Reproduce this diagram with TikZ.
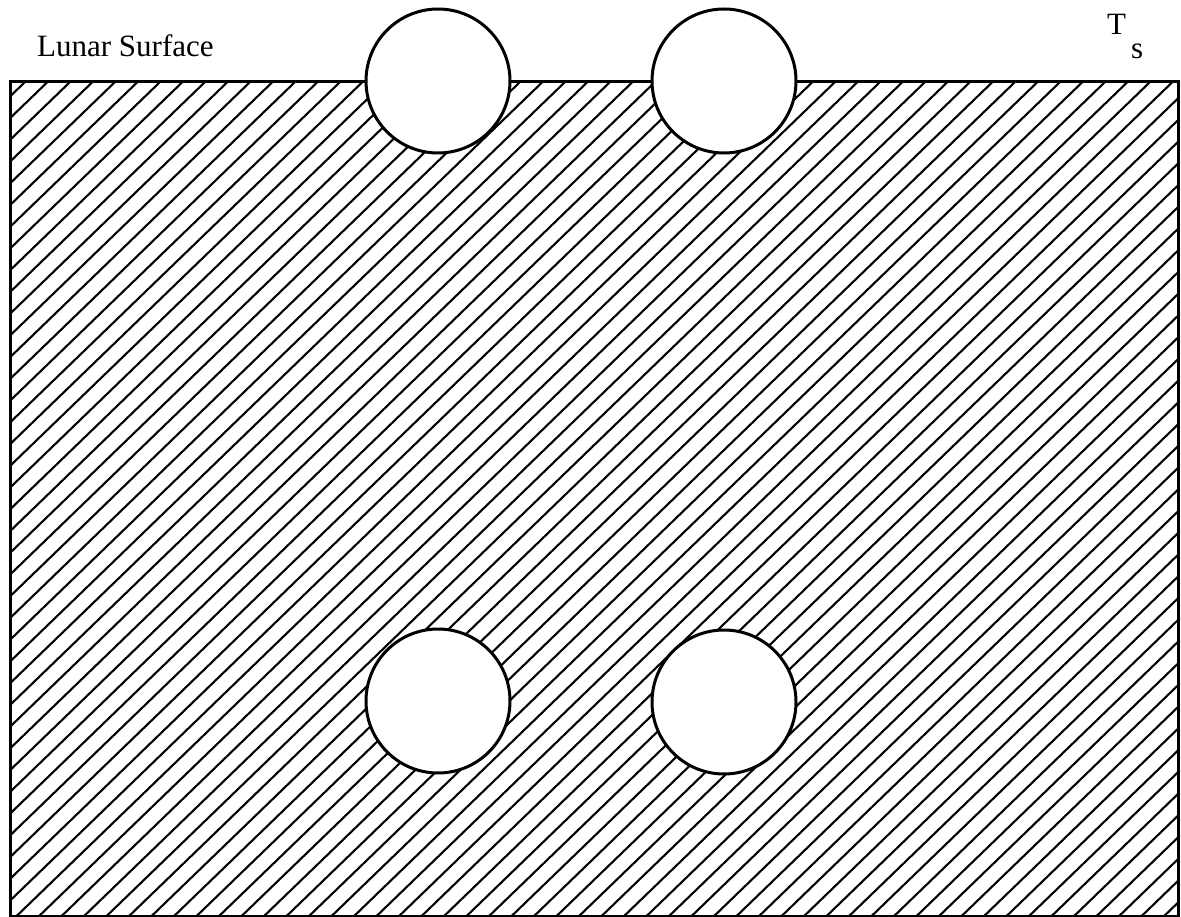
\documentclass[tikz,border=0pt]{standalone}
\usepackage{fontspec}
\setmainfont{Liberation Serif}
\begin{document}
\begin{tikzpicture}[x=1pt,y=-1pt,
  hatch/.style={line width=2.1pt},
  edge/.style={line width=3pt},
  pore/.style={circle,draw,fill=white,line width=3pt,minimum size=144pt,inner sep=0pt},
  lbl/.style={inner sep=0pt,font=\fontsize{31}{31}\selectfont}]
\useasboundingbox (0,0) rectangle (1181,917);
\fill[white] (0,0) rectangle (1181,917);
% hatched regolith
\begin{scope}
\clip (10,82) rectangle (1178,916);
\foreach \i in {-50,...,110} {
  \draw[hatch] ({25+\i*22.5+1000},{82-966}) -- ({25+\i*22.5-1000},{82+966});
}
\end{scope}
\draw[edge] (10,82) rectangle (1178,916);
% pores
\node[pore] (p1) at (438,81) {};
\node[pore] (p2) at (724,81) {};
\node[pore] (p3) at (438,701) {};
\node[pore] (p4) at (724,702) {};
% labels
\node[lbl,anchor=base west] (ls) at (37,57) {Lunar Surface};
\node[lbl,anchor=base west] (ts) at (1107,35) {T};
\node[lbl,anchor=base west] (tss) at (1131,59) {s};
\end{tikzpicture}
\end{document}
